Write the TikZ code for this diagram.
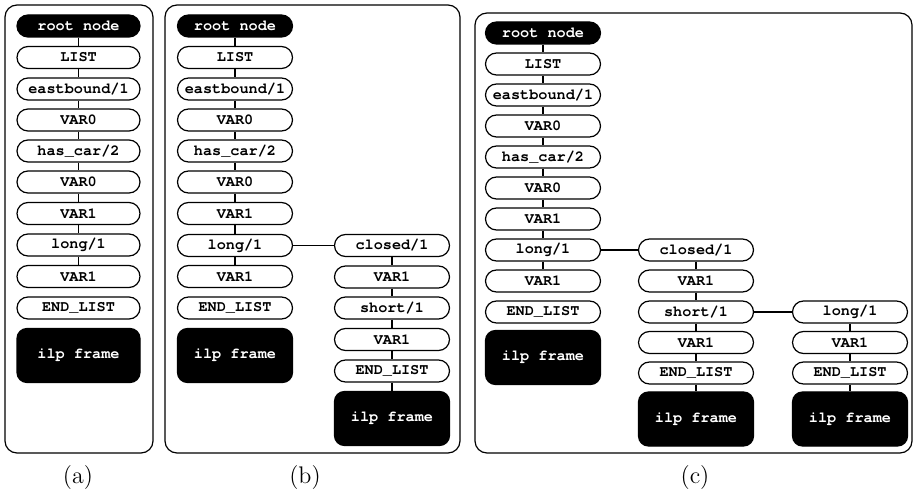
\documentclass[tikz,border=0pt]{standalone}
\usepackage{fontspec}
\setmonofont{TeX Gyre Cursor}
\tikzset{
every node/.style={rectangle, draw, line width=0.6pt, rounded corners=5.5pt, inner sep=0pt,
  minimum width=57.5pt, minimum height=11pt, font=\ttfamily\bfseries\fontsize{7.6}{9}\selectfont},
wide/.style={minimum width=61.5pt},
root/.style={fill=black, text=white},
ilp/.style={fill=black, text=white, rounded corners=5pt, minimum height=27pt},
caption/.style={draw=none, minimum width=0pt, minimum height=0pt, font=\large\rmfamily}
}

\begin{document}
\begin{tikzpicture}[x=0.5pt, y=-0.5pt, line width=0.6pt]
\useasboundingbox (0,0) rectangle (915,496);

% panel frames
\draw[rounded corners=6pt] (5,5) rectangle (153,453);
\draw[rounded corners=6pt] (165,5) rectangle (460,453);
\draw[rounded corners=6pt] (475,13) rectangle (912,453);

% (a)
\node[wide, root] (a1) at (78.5,26) {root node};
\node[wide] (a2) at (78.5,57.5) {LIST};
\node[wide] (a3) at (78.5,89) {eastbound/1};
\node[wide] (a4) at (78.5,120) {VAR0};
\node[wide] (a5) at (78.5,151) {has\_car/2};
\node[wide] (a6) at (78.5,182) {VAR0};
\node[wide] (a7) at (78.5,213.5) {VAR1};
\node[wide] (a8) at (78.5,245) {long/1};
\node[wide] (a9) at (78.5,276.5) {VAR1};
\node[wide] (a10) at (78.5,308) {END\_LIST};
\node[wide, ilp] (a11) at (78.5,355.5) {ilp frame};

% (b)
\node[root] (b1) at (235,26) {root node};
\node (b2) at (235,57.5) {LIST};
\node (b3) at (235,89) {eastbound/1};
\node (b4) at (235,120) {VAR0};
\node (b5) at (235,151) {has\_car/2};
\node (b6) at (235,182) {VAR0};
\node (b7) at (235,213.5) {VAR1};
\node (b8) at (235,245.5) {long/1};
\node (b9) at (235,276.5) {VAR1};
\node (b10) at (235,308) {END\_LIST};
\node[ilp] (b11) at (235,355.5) {ilp frame};
\node (b12) at (392,245.5) {closed/1};
\node (b13) at (392,277) {VAR1};
\node (b14) at (392,308) {short/1};
\node (b15) at (392,339.5) {VAR1};
\node (b16) at (392,371) {END\_LIST};
\node[ilp] (b17) at (392,418.5) {ilp frame};

% (c)
\node[root] (c1) at (543,33) {root node};
\node (c2) at (543,64) {LIST};
\node (c3) at (543,95) {eastbound/1};
\node (c4) at (543,126) {VAR0};
\node (c5) at (543,157) {has\_car/2};
\node (c6) at (543,188) {VAR0};
\node (c7) at (543,219) {VAR1};
\node (c8) at (543,250) {long/1};
\node (c9) at (543,281) {VAR1};
\node (c10) at (543,312) {END\_LIST};
\node[ilp] (c11) at (543,357.5) {ilp frame};
\node (c12) at (696,250) {closed/1};
\node (c13) at (696,281) {VAR1};
\node (c14) at (696,312) {short/1};
\node (c15) at (696,342.5) {VAR1};
\node (c16) at (696,373) {END\_LIST};
\node[ilp] (c17) at (696,419) {ilp frame};
\node (c18) at (850,312) {long/1};
\node (c19) at (850,342.5) {VAR1};
\node (c20) at (850,373) {END\_LIST};
\node[ilp] (c21) at (850,419) {ilp frame};

\foreach \u/\v in {a1/a2,a2/a3,a3/a4,a4/a5,a5/a6,a6/a7,a7/a8,a8/a9,
  b1/b2,b2/b3,b3/b4,b4/b5,b5/b6,b6/b7,b7/b8,b8/b9,
  b8/b12,b12/b13,b13/b14,b14/b15,b15/b16,b16/b17,
  c1/c2,c2/c3,c3/c4,c4/c5,c5/c6,c6/c7,c7/c8,c8/c9,
  c8/c12,c12/c13,c13/c14,c14/c15,c15/c16,c16/c17,
  c14/c18,c18/c19,c19/c20,c20/c21}
  \draw (\u) -- (\v);

\node[caption] (capa) at (78,478) {(a)};
\node[caption] (capb) at (305,478) {(b)};
\node[caption] (capc) at (695,478) {(c)};
\end{tikzpicture}
\end{document}
